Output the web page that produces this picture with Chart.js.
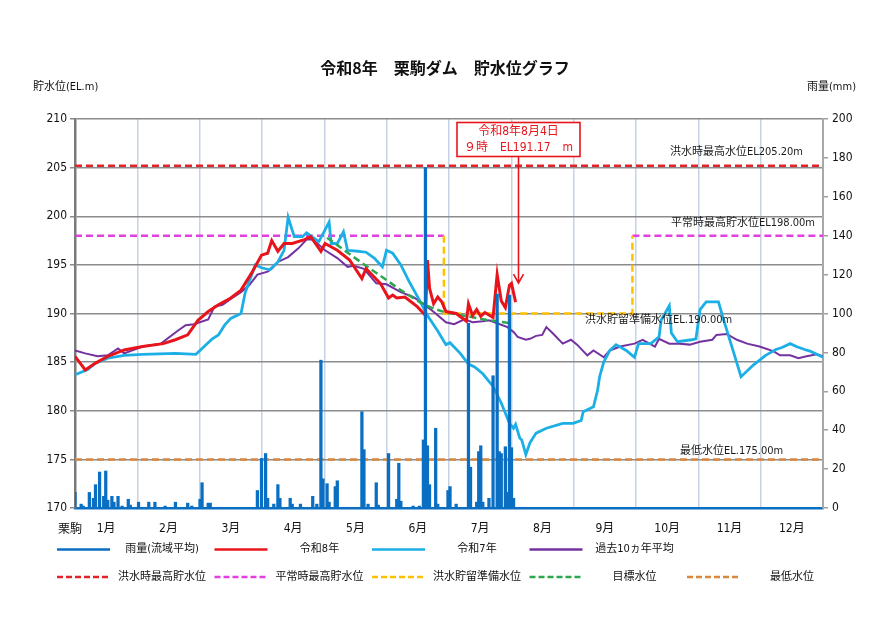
<!DOCTYPE html>
<html lang="ja">
<head>
<meta charset="utf-8">
<title>令和8年 栗駒ダム 貯水位グラフ</title>
<script src="https://cdn.jsdelivr.net/npm/chart.js@4.4.1/dist/chart.umd.min.js"></script>
<style>
  html, body { margin: 0; padding: 0; background: #fff; }
  #wrap { width: 891px; height: 630px; }
</style>
</head>
<body>
<div id="wrap"><canvas id="damChart" width="891" height="630"></canvas></div>
<script>
const FONT = "'DejaVu Sans Condensed','Noto Sans CJK JP',sans-serif";
const CJK = "'Noto Sans CJK JP',sans-serif";

// x axis = day of year (0 = 1月1日)
const YEAR_DAYS = 365;
const monthLabels = ['1月','2月','3月','4月','5月','6月','7月','8月','9月','10月','11月','12月'];
const stationName = '栗駒';

// 雨量(流域平均) mm, only days with rain
const rainDays = [0,3,4,7,9,10,12,14,15,16,18,19,21,23,26,27,31,36,39,44,49,55,57,61,62,65,66,89,91,93,94,97,99,100,105,106,110,116,118,120,121,123,124,127,128,140,141,143,147,148,153,157,158,159,165,168,170,171,172,173,176,177,182,183,186,192,193,196,197,198,199,202,204,206,207,208,210,211,212,213,214];
const rainMm = [8,2,1,8,5,12,18.5,6,19,4,6,3,6,1,4.5,1.5,3,3,3,1,3,2.5,1,4.5,13,2.5,2.5,9,25.5,28,5,2,12,5,5,2,2,6,2,76,15,12.5,3,11,14,49.5,30,2,13,1.5,28,4.5,23,3.5,1,1,35,175,32,12,41,2,9,11,2,95,21,3,29,32,3,5,68,110,29,28,31.5,8,109.5,31,5];

// 令和8年 貯水位 (EL.m)
const r8Days = [0,5,10,16,24,33,43,49,55,60,65,70,76,81,86,91,94,96,99,102,106,112,115,120,122,128,134,140,142,149,153,155,157,161,167,171,172,173,175,177,179,181,186,191,192,194,196,198,200,204,206,208,210,212,213,215];
const r8Levels = [185.6,184.2,184.9,185.6,186.25,186.6,186.9,187.3,187.8,189.3,190.2,190.9,191.6,192.4,194.1,196.0,196.2,197.5,196.4,197.2,197.2,197.6,197.9,196.4,197.2,196.5,195.5,193.6,194.6,193.1,191.6,191.9,191.6,191.7,190.7,189.8,195.5,192.6,191.0,191.7,191.2,190.2,190.0,189.2,191.0,189.8,190.4,189.7,190.1,189.6,194.0,191.3,190.6,192.9,193.1,191.17];

// 令和7年 貯水位
const r7Days = [0,6,10,16,24,33,49,59,62,67,70,73,76,81,83,88,91,95,99,102,104,107,111,113,119,124,125,128,131,133,138,142,146,150,152,155,159,163,168,172,177,181,183,188,192,195,199,204,208,212,214,215,217,218,220,222,225,230,238,243,247,248,253,255,256,258,261,264,269,273,275,281,285,286,290,291,294,301,303,305,308,314,316,325,331,337,342,345,349,352,356,359,365];
const r7Levels = [183.7,184.2,184.9,185.4,185.7,185.8,185.9,185.8,186.4,187.4,187.8,188.8,189.5,190.0,192.1,195.0,194.7,194.5,195.3,196.5,199.9,197.9,197.9,198.3,197.4,199.4,197.2,197.2,198.4,196.5,196.4,196.3,195.7,194.8,196.5,196.2,195.0,193.3,191.4,189.8,188.2,186.8,187.0,185.9,184.8,184.5,183.8,182.5,180.8,178.7,178.2,178.6,177.2,177.0,175.5,176.7,177.7,178.2,178.7,178.7,179.0,179.9,180.4,182.1,183.5,185.0,186.2,186.8,186.2,185.5,186.9,186.9,187.6,189.3,190.8,188.0,187.1,187.3,187.4,190.4,191.2,191.2,189.7,183.5,184.7,185.7,186.3,186.5,186.9,186.6,186.3,186.1,185.5];

// 過去10ヵ年平均
const avgDays = [0,5,11,16,21,24,33,42,45,50,54,58,65,68,72,76,81,85,89,94,96,99,104,109,113,116,122,128,133,136,141,147,152,159,165,170,176,181,185,190,194,199,202,206,211,214,216,220,222,225,228,230,233,238,242,245,250,253,258,261,266,273,277,283,285,290,295,300,305,311,313,318,323,328,334,341,344,349,353,357,362,365];
const avgLevels = [186.2,185.9,185.6,185.7,186.4,185.9,186.6,186.9,187.4,188.2,188.8,188.9,189.4,190.7,190.9,191.5,192.2,192.9,194.0,194.3,194.6,195.3,195.8,196.7,197.6,197.6,196.5,195.7,194.8,194.9,194.6,193.1,193.0,192.2,191.7,191.0,190.0,189.1,188.9,189.4,189.1,189.2,189.3,189.0,188.6,188.1,187.6,187.3,187.4,187.7,187.8,188.6,188.0,186.9,187.3,186.8,185.7,186.2,185.5,186.2,186.6,186.9,187.3,186.6,187.4,186.9,186.9,186.8,187.1,187.3,187.8,187.9,187.3,186.9,186.6,186.1,185.7,185.7,185.4,185.6,185.8,185.6];

// 目標水位
const targetDays = [123,136,159,168,175,181,192,202,213];
const targetLevels = [197.8,195.8,192.4,191.2,190.5,190.1,189.7,189.3,189.0];

// 管理水位
const floodMaxLevel = 205.2;     // 洪水時最高水位
const normalMaxLevel = 198.0;    // 平常時最高貯水位
const floodPrepLevel = 190.0;    // 洪水貯留準備水位
const minLevel = 175.0;          // 最低水位
const floodSeason = [180, 272];  // 洪水期 (day of year)

const levelTicks = { min: 170, max: 210, step: 5 };
const rainTicks = { min: 0, max: 200, step: 20 };

const pts = (xs, ys) => xs.map((d, i) => ({ x: d, y: ys[i] }));
const flat = (v) => [{ x: 0, y: v }, { x: YEAR_DAYS, y: v }];

const monthW = YEAR_DAYS / 12;
const xTickValues = [];
for (let k = 0; k <= 12; k++) {
  xTickValues.push(k * monthW);
  if (k < 12) xTickValues.push((k + 0.5) * monthW);
}
const isBoundary = v => Math.abs(v / monthW - Math.round(v / monthW)) < 1e-6;

const datasets = [
  { label: '雨量(流域平均)', type: 'bar', yAxisID: 'y1', data: pts(rainDays, rainMm),
    backgroundColor: '#0a6fc2', barThickness: 2.6, order: 0 },
  { label: '令和8年', data: pts(r8Days, r8Levels), borderColor: '#e8141c', borderWidth: 3, order: 1 },
  { label: '目標水位', data: pts(targetDays, targetLevels), borderColor: '#2ea84f', borderWidth: 2.5, borderDash: [7, 4], order: 2 },
  { label: '令和7年', data: pts(r7Days, r7Levels), borderColor: '#1cafe6', borderWidth: 2.8, order: 3 },
  { label: '過去10ヵ年平均', data: pts(avgDays, avgLevels), borderColor: '#7432a0', borderWidth: 2, order: 4 },
  { label: '洪水貯留準備水位', data: [
      { x: floodSeason[0], y: normalMaxLevel }, { x: floodSeason[0], y: floodPrepLevel },
      { x: floodSeason[1], y: floodPrepLevel }, { x: floodSeason[1], y: normalMaxLevel }],
    borderColor: '#ffc000', borderWidth: 2.5, borderDash: [7, 4], order: 5 },
  { label: '平常時最高貯水位', data: [
      { x: 0, y: normalMaxLevel }, { x: floodSeason[0], y: normalMaxLevel },
      { x: (floodSeason[0] + floodSeason[1]) / 2, y: null },
      { x: floodSeason[1], y: normalMaxLevel }, { x: YEAR_DAYS, y: normalMaxLevel }],
    borderColor: '#e23ee0', borderWidth: 2.5, borderDash: [7, 4], spanGaps: false, order: 6 },
  { label: '洪水時最高貯水位', data: flat(floodMaxLevel), borderColor: '#e3222a', borderWidth: 2.5, borderDash: [7, 4], order: 7 },
  { label: '最低水位', data: flat(minLevel), borderColor: '#d9873e', borderWidth: 2.5, borderDash: [7, 4], order: 8 },
];
datasets.forEach(d => { if (!d.type) { d.type = 'line'; d.pointRadius = 0; d.tension = 0; d.fill = false; } });

// legend layout: two rows, five cells
const legendRows = [
  [['雨量(流域平均)', '#0a6fc2', false], ['令和8年', '#e8141c', false], ['令和7年', '#1cafe6', false], ['過去10ヵ年平均', '#7432a0', false]],
  [['洪水時最高貯水位', '#e3222a', true], ['平常時最高貯水位', '#e23ee0', true], ['洪水貯留準備水位', '#ffc000', true], ['目標水位', '#2ea84f', true], ['最低水位', '#d9873e', true]],
];

const overlay = {
  id: 'overlay',
  beforeDraw(chart) {
    const { ctx } = chart;
    ctx.save();
    ctx.fillStyle = '#fff';
    ctx.fillRect(0, 0, chart.width, chart.height);
    ctx.restore();
  },
  afterDatasetsDraw(chart) {
    const { ctx, chartArea: a, scales: { x, y } } = chart;
    ctx.save();
    ctx.textBaseline = 'middle';
    ctx.fillStyle = '#1a1a1a';
    ctx.font = `11px ${FONT}`;

    // level captions
    ctx.textAlign = 'right';
    ctx.fillText(`洪水時最高水位EL${floodMaxLevel.toFixed(2)}m`, a.right - 20, y.getPixelForValue(floodMaxLevel) - 14);
    ctx.fillText(`平常時最高貯水位EL${normalMaxLevel.toFixed(2)}m`, a.right - 8, y.getPixelForValue(normalMaxLevel) - 13);
    ctx.textAlign = 'left';
    ctx.fillText(`洪水貯留準備水位EL.${floodPrepLevel.toFixed(2)}m`, 585, y.getPixelForValue(floodPrepLevel) + 7);
    ctx.fillText(`最低水位EL.${minLevel.toFixed(2)}m`, 680, y.getPixelForValue(minLevel) - 8);

    // latest value callout
    const last = r8Days.length - 1;
    const ax = Math.round(x.getPixelForValue(r8Days[last])) + 2.5;
    const tipY = y.getPixelForValue(r8Levels[last]) - 19;
    const bw = 123, bh = 34, bt = 122.5;
    ctx.strokeStyle = '#e8141c';
    ctx.lineWidth = 1.6;
    ctx.fillStyle = '#fff';
    ctx.fillRect(ax - bw / 2, bt, bw, bh);
    ctx.strokeRect(ax - bw / 2, bt, bw, bh);
    ctx.beginPath();
    ctx.moveTo(ax, bt + bh);
    ctx.lineTo(ax, tipY);
    ctx.moveTo(ax - 5, tipY - 9);
    ctx.lineTo(ax, tipY);
    ctx.lineTo(ax + 5, tipY - 9);
    ctx.stroke();
    ctx.fillStyle = '#e8141c';
    ctx.font = `12px ${FONT}`;
    ctx.textAlign = 'center';
    ctx.fillText('令和8年8月4日', ax, bt + 9.5);
    ctx.fillText(`９時　EL${r8Levels[last].toFixed(2)}　m`, ax, bt + 25);
    ctx.restore();
  },
  afterDraw(chart) {
    const { ctx, chartArea: a } = chart;
    ctx.save();
    ctx.fillStyle = '#111';
    ctx.textBaseline = 'middle';
    ctx.textAlign = 'center';
    ctx.font = `bold 16px ${CJK}`;
    ctx.fillText('令和8年　栗駒ダム　貯水位グラフ', 445, 68);

    ctx.font = `11px ${FONT}`;
    ctx.textAlign = 'left';
    ctx.fillText('貯水位(EL.m)', 33, 87);
    ctx.textAlign = 'right';
    ctx.fillText('雨量(mm)', 856, 87);

    ctx.font = `12px ${FONT}`;
    ctx.textAlign = 'center';
    ctx.fillText(stationName, a.left - 5, 530);

    // legend
    ctx.font = `11px ${FONT}`;
    const rowY = [549.5, 577];
    legendRows.forEach((row, r) => {
      row.forEach((item, i) => {
        const x0 = 57 + i * 157.5;
        ctx.beginPath();
        ctx.strokeStyle = item[1];
        ctx.lineWidth = 2.5;
        ctx.setLineDash(item[2] ? [6, 3] : []);
        ctx.moveTo(x0, rowY[r]);
        ctx.lineTo(x0 + 53, rowY[r]);
        ctx.stroke();
        ctx.setLineDash([]);
        ctx.fillStyle = '#111';
        ctx.textAlign = 'center';
        ctx.fillText(item[0], x0 + 105, rowY[r]);
      });
    });
    ctx.restore();
  }
};

new Chart(document.getElementById('damChart'), {
  type: 'line',
  data: { datasets },
  options: {
    responsive: false,
    animation: false,
    layout: { autoPadding: false, padding: { top: 119, left: 0, right: 0, bottom: 0 } },
    plugins: { legend: { display: false }, tooltip: { enabled: false } },
    scales: {
      x: {
        type: 'linear', min: 0, max: YEAR_DAYS, offset: false,
        afterBuildTicks: s => { s.ticks = xTickValues.map(v => ({ value: v })); },
        afterFit: s => { s.height = 122; },
        ticks: {
          autoSkip: false, maxRotation: 0, padding: 14, color: '#111',
          font: { family: FONT, size: 12 },
          callback: v => isBoundary(v) ? '' : monthLabels[Math.floor(v / monthW)]
        },
        grid: {
          offset: false, drawTicks: false, lineWidth: 1.5,
          color: c => (c.tick && isBoundary(c.tick.value) && c.tick.value > 0.5 && c.tick.value < YEAR_DAYS - 0.5) ? '#c5d3e4' : 'rgba(0,0,0,0)'
        },
        border: { color: '#0a6fc2', width: 2.5 }
      },
      y: {
        position: 'left', min: levelTicks.min, max: levelTicks.max,
        afterFit: s => { s.width = 75; },
        ticks: { stepSize: levelTicks.step, padding: 3, color: '#111', font: { family: FONT, size: 12 } },
        grid: {
          lineWidth: 1.5, tickLength: 5, tickColor: '#8a8a8a',
          color: c => (c.tick && c.tick.value === levelTicks.min) ? 'rgba(0,0,0,0)' : '#8c8c8c'
        },
        border: { color: '#7a7a7a', width: 2.5 }
      },
      y1: {
        position: 'right', min: rainTicks.min, max: rainTicks.max,
        afterFit: s => { s.width = 68; },
        ticks: { stepSize: rainTicks.step, padding: 4, color: '#111', font: { family: FONT, size: 12 } },
        grid: { drawOnChartArea: false, tickLength: 5, tickColor: '#a0a0a0', lineWidth: 1.5 },
        border: { color: '#a8a8a8', width: 2 }
      }
    }
  },
  plugins: [overlay]
});
</script>
</body>
</html>
